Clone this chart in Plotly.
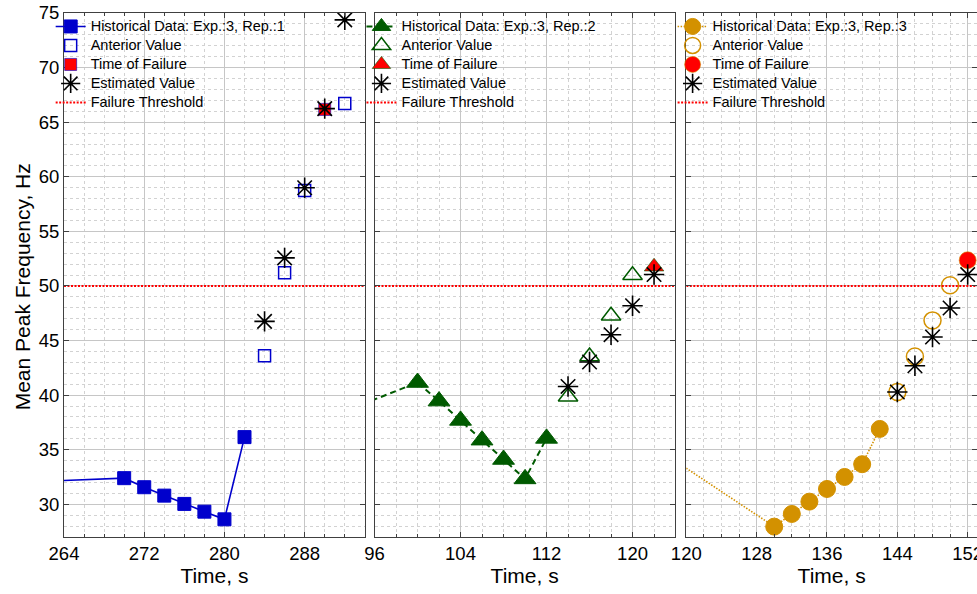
import plotly.graph_objects as go

# ---------------- data ----------------
exp_labels = ["Historical Data: Exp.:3, Rep.:1",
              "Historical Data: Exp.:3, Rep.:2",
              "Historical Data: Exp.:3, Rep.:3"]
series_names = ["Anterior Value", "Time of Failure", "Estimated Value", "Failure Threshold"]

# Panel 1 (Rep. 1)
p1_hist_t = [262, 270, 272, 274, 276, 278, 280, 282]
p1_hist_v = [32.10, 32.39, 31.56, 30.79, 30.03, 29.32, 28.62, 36.15]
p1_ant_t = [284, 286, 288, 292]
p1_ant_v = [43.60, 51.20, 58.74, 66.72]
p1_fail_t = [290]
p1_fail_v = [66.17]
p1_est_t = [284, 286, 288, 290, 292]
p1_est_v = [46.75, 52.57, 58.99, 66.24, 74.37]

# Panel 2 (Rep. 2)
p2_hist_t = [94, 100, 102, 104, 106, 108, 110, 112]
p2_hist_v = [38.82, 41.15, 39.45, 37.68, 35.87, 34.10, 32.32, 36.03]
p2_ant_t = [114, 116, 118, 120]
p2_ant_v = [39.84, 43.53, 47.27, 50.97]
p2_fail_t = [122]
p2_fail_v = [51.76]
p2_est_t = [114, 116, 118, 120, 122]
p2_est_v = [40.79, 43.03, 45.53, 48.19, 51.04]

# Panel 3 (Rep. 3)
p3_hist_t = [118, 130, 132, 134, 136, 138, 140, 142]
p3_hist_v = [34.37, 27.95, 29.11, 30.24, 31.40, 32.50, 33.67, 36.90]
p3_ant_t = [144, 146, 148, 150]
p3_ant_v = [40.28, 43.54, 46.84, 50.06]
p3_fail_t = [152]
p3_fail_v = [52.35]
p3_est_t = [144, 146, 148, 150, 152]
p3_est_v = [40.28, 42.69, 45.32, 47.98, 51.04]

threshold = 50
x_ranges = [[264, 294], [96, 123.93], [120, 153.06]]
x_tick0 = [264, 96, 120]
y_range = [27, 75]

# ---------------- styling ----------------
FONT = "Liberation Sans, Arial, Helvetica, sans-serif"
colors = ["#0000CC", "#005A00", "#D39100"]
hist_sym = ["square", "triangle-up", "circle"]
ant_sym = ["square-open", "triangle-up-open", "circle-open"]
hist_size = [13, 19, 17]
ant_size = [12, 17, 17]
fail_size = [12, 17, 17]
dashes = ["solid", "6px,4px", "1.5px,1.5px"]
line_w = [1.6, 2.0, 1.6]
domains = [[0.0, 0.3295], [0.3401, 0.6690], [0.6816, 1.0]]
legend_x = [-0.0146, 0.3258, 0.6666]


def lg(name):
    # legend label at 14.5px while the legend rows keep a compact pitch
    return '<span style="font-size:14.5px">' + name + '</span>'


panels = [
    (p1_hist_t, p1_hist_v, p1_ant_t, p1_ant_v, p1_fail_t, p1_fail_v, p1_est_t, p1_est_v),
    (p2_hist_t, p2_hist_v, p2_ant_t, p2_ant_v, p2_fail_t, p2_fail_v, p2_est_t, p2_est_v),
    (p3_hist_t, p3_hist_v, p3_ant_t, p3_ant_v, p3_fail_t, p3_fail_v, p3_est_t, p3_est_v),
]

fig = go.Figure()

for i, (ht, hv, at, av, ft, fv, et, ev) in enumerate(panels):
    sfx = "" if i == 0 else str(i + 1)
    xa, ya = "x" + sfx, "y" + sfx
    leg = "legend" + sfx
    c = colors[i]
    fig.add_trace(go.Scatter(
        x=ht, y=hv, mode="lines+markers", name=lg(exp_labels[i]),
        xaxis=xa, yaxis=ya, legend=leg,
        line=dict(color=c, width=line_w[i], dash=dashes[i]),
        marker=dict(symbol=hist_sym[i], size=hist_size[i], color=c,
                    line=dict(color=c, width=1))))
    fig.add_trace(go.Scatter(
        x=at, y=av, mode="markers", name=lg(series_names[0]),
        xaxis=xa, yaxis=ya, legend=leg,
        marker=dict(symbol=ant_sym[i], size=ant_size[i], color=c,
                    line=dict(color=c, width=1.5))))
    fig.add_trace(go.Scatter(
        x=ft, y=fv, mode="markers", name=lg(series_names[1]),
        xaxis=xa, yaxis=ya, legend=leg,
        marker=dict(symbol=hist_sym[i], size=fail_size[i], color="#FF0000",
                    line=dict(color=c, width=0.6))))
    fig.add_trace(go.Scatter(
        x=et, y=ev, mode="markers", name=lg(series_names[2]),
        xaxis=xa, yaxis=ya, legend=leg,
        marker=dict(symbol="asterisk-open", size=17, color="black",
                    line=dict(color="black", width=1.6))))
    fig.add_trace(go.Scatter(
        x=x_ranges[i], y=[threshold, threshold], mode="lines",
        name=lg(series_names[3]), xaxis=xa, yaxis=ya, legend=leg,
        line=dict(color="#FF0000", width=2, dash="2px,1.5px")))

axis_common = dict(
    showline=True, linecolor="#404040", linewidth=1, mirror="ticks",
    ticks="inside", ticklen=5, tickcolor="#404040", tickwidth=1,
    showgrid=True, gridcolor="#C6C6C6", gridwidth=1,
    zeroline=False, automargin=False, ticklabeloverflow="allow",
    tickfont=dict(family=FONT, size=18.5, color="black"),
)

layout = dict(
    width=977, height=594,
    margin=dict(l=64.3, r=0, t=13.3, b=56.7),
    paper_bgcolor="white", plot_bgcolor="white",
    font=dict(family=FONT, color="black"),
    annotations=[dict(
        text="Mean Peak Frequency, Hz", textangle=-90,
        xref="paper", yref="paper", x=-0.0453, y=0.4777,
        xanchor="center", yanchor="middle", showarrow=False,
        font=dict(family=FONT, size=21, color="black"))],
)

for i in range(3):
    sfx = "" if i == 0 else str(i + 1)
    layout["xaxis" + sfx] = dict(
        axis_common, domain=domains[i], range=x_ranges[i],
        tick0=x_tick0[i], dtick=8, anchor="y" + sfx,
        minor=dict(dtick=2, ticks="inside", ticklen=3, tickcolor="#404040",
                   showgrid=True, gridcolor="#D2D2D2", griddash="dot", gridwidth=1),
        title=dict(text="Time, s", font=dict(family=FONT, size=21, color="black"),
                   standoff=3),
    )
    layout["yaxis" + sfx] = dict(
        axis_common, domain=[0, 1], range=y_range, tick0=30, dtick=5,
        anchor="x" + sfx, showticklabels=(i == 0),
        minor=dict(dtick=1, ticks="", showgrid=True, gridcolor="#D2D2D2",
                   griddash="dot", gridwidth=1),
    )
    layout["legend" + sfx] = dict(
        x=legend_x[i], y=1.002, xanchor="left", yanchor="top",
        bgcolor="rgba(0,0,0,0)", borderwidth=0,
        font=dict(family=FONT, size=11.5, color="black"),
        traceorder="normal",
    )

fig.update_layout(**layout)
fig.write_html("out.html")
